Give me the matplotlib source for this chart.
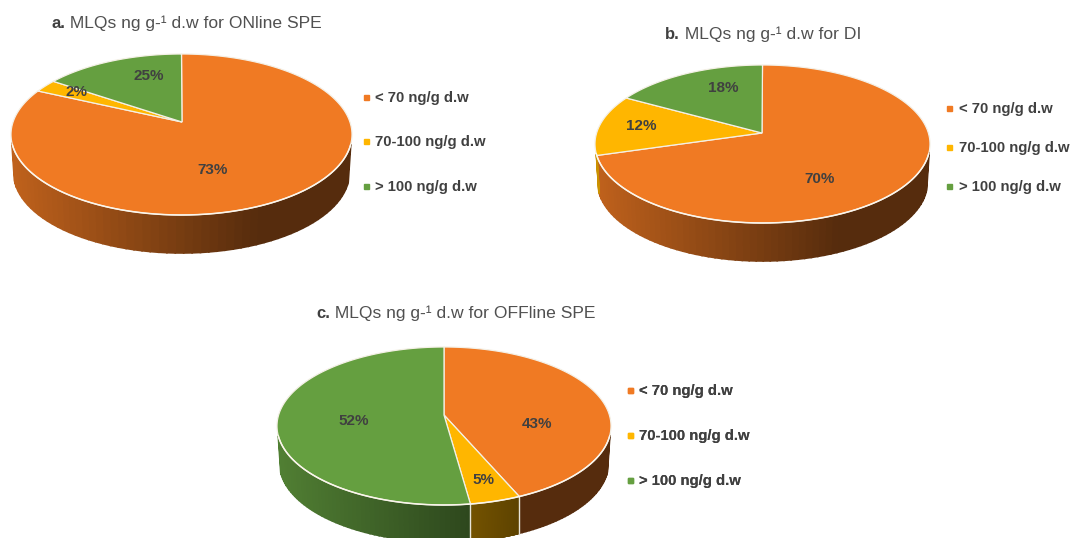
import numpy as np
import matplotlib
matplotlib.use('Agg')
import matplotlib.pyplot as plt
from matplotlib.lines import Line2D
from matplotlib.colors import to_rgb

plt.rcParams['font.family'] = ['Liberation Sans', 'DejaVu Sans']

# Data
categories = ['< 70 ng/g d.w', '70-100 ng/g d.w', '> 100 ng/g d.w']
colors = ['#F07A23', '#FFB600', '#659F40']

printed_a = [73, 2, 25]
printed_b = [70, 12, 18]
printed_c = [43, 5, 52]

# slice sizes as drawn; the wedges do not quite follow the printed numbers (panel a least of all)
drawn_a = [81.9, 2.6, 15.5]
drawn_b = [70.5, 12.5, 17.0]
drawn_c = [43.5, 4.3, 52.2]

panels = [
    dict(tag='a.', title=' MLQs ng g-¹ d.w for ONline SPE', title_xy=(51, 28),
         printed=printed_a, drawn=drawn_a,
         apex=(182, 122), top=54, bottom=215, left=11, right=352, depth=38,
         label_xy=[(213, 170), (77, 92), (149, 76)],
         legend_xy=(361, 91), legend_gap=2.05),
    dict(tag='b.', title=' MLQs ng g-¹ d.w for DI', title_xy=(665, 39),
         printed=printed_b, drawn=drawn_b,
         apex=(762, 133), top=65, bottom=223, left=595, right=930, depth=38,
         label_xy=[(820, 179), (641, 126), (723, 88)],
         legend_xy=(944.5, 102), legend_gap=1.69),
    dict(tag='c.', title=' MLQs ng g-¹ d.w for OFFline SPE', title_xy=(316, 318),
         printed=printed_c, drawn=drawn_c,
         apex=(444, 415), top=347, bottom=505, left=277, right=611, depth=37,
         label_xy=[(537, 424), (483, 480), (354, 421)],
         legend_xy=(625, 384), legend_gap=2.09),
]


def rim_points(p, frac):
    # frac runs clockwise from 12 o'clock; perspective moves the apex off the ellipse centre
    up = p['apex'][1] - p['top']
    down = p['bottom'] - p['apex'][1]
    k = (down - up) / (down + up)
    s = up * (1 + k)
    r = (p['right'] - p['left']) / 2 * np.sqrt(1 - k ** 2)
    t = 2 * np.pi * frac
    w = 1 + k * np.cos(t)
    x = (p['left'] + p['right']) / 2 + r * np.sin(t) / w
    y = p['apex'][1] - s * np.cos(t) / w
    return x, y


def draw_pie(ax, p):
    fracs = np.cumsum([0] + p['drawn']) / sum(p['drawn'])
    span = p['right'] - p['left']
    cx = (p['left'] + p['right']) / 2
    wall_from = (p['top'] + p['bottom']) / 2 + 10

    # side wall first, in strips so the shading runs dark to the right
    for i, c in enumerate(colors):
        ts = np.linspace(fracs[i], fracs[i + 1], 121)
        xs, ys = rim_points(p, ts)
        for j in range(0, len(ts) - 1):
            if ys[j] < wall_from and ys[j + 1] < wall_from:
                continue
            pos = (xs[j] - p['left']) / span
            shade = max(0.36, 0.80 - 0.60 * pos)
            # lower rim sits slightly inside the upper one
            x0, x1 = xs[j], xs[j + 1]
            bx0, bx1 = cx + (x0 - cx) * 0.985, cx + (x1 - cx) * 0.985
            ax.fill([x0, x1, bx1, bx0],
                    [ys[j], ys[j + 1], ys[j + 1] + p['depth'], ys[j] + p['depth']],
                    color=tuple(v * shade for v in to_rgb(c)), lw=1.2, zorder=2)

    # white seams on the wall
    for f in fracs[1:-1]:
        x, y = rim_points(p, f)
        if y > wall_from + 15:
            ax.plot([x, x], [y, y + p['depth']], color='#E8E4D8', lw=1, zorder=3)

    # top face
    for i, c in enumerate(colors):
        xs, ys = rim_points(p, np.linspace(fracs[i], fracs[i + 1], 200))
        ax.fill(np.r_[p['apex'][0], xs], np.r_[p['apex'][1], ys],
                facecolor=c, edgecolor='#F4F0E6', lw=0.9, zorder=4)

    # brighter line along the front rim
    xs, ys = rim_points(p, np.linspace(0, 1, 720))
    front = ys > wall_from
    ax.plot(np.where(front, xs, np.nan), ys, color='#FBF6EC', lw=1.1, zorder=4.5)

    for txt, (x, y) in zip(p['printed'], p['label_xy']):
        ax.text(x, y, f'{txt}%', ha='center', va='center', fontsize=11,
                fontweight='bold', color='#404040', zorder=5)

    # title: bold panel letter, regular remainder
    tag = ax.text(*p['title_xy'], p['tag'], fontsize=12, fontweight='bold',
                  color='#404040', ha='left', va='baseline')
    ax.annotate(p['title'], xy=(1, 0), xycoords=tag, fontsize=12.6, color='#505050',
                ha='left', va='bottom')

    handles = [Line2D([], [], ls='', marker='s', ms=3.6, color=c) for c in colors]
    leg = ax.legend(handles, categories, loc='upper left', frameon=False,
                    bbox_to_anchor=p['legend_xy'], bbox_transform=ax.transData,
                    prop=dict(size=10.7, weight='bold'), labelcolor='#404040',
                    labelspacing=p['legend_gap'], handlelength=0.65, handletextpad=0.3,
                    borderpad=0, borderaxespad=0)
    ax.add_artist(leg)


fig = plt.figure(figsize=(10.7, 5.38), dpi=100)
ax = fig.add_axes([0, 0, 1, 1])
ax.set_xlim(0, 1070)
ax.set_ylim(538, 0)
ax.axis('off')

for panel in panels:
    draw_pie(ax, panel)

plt.savefig('out.png', dpi=100)
